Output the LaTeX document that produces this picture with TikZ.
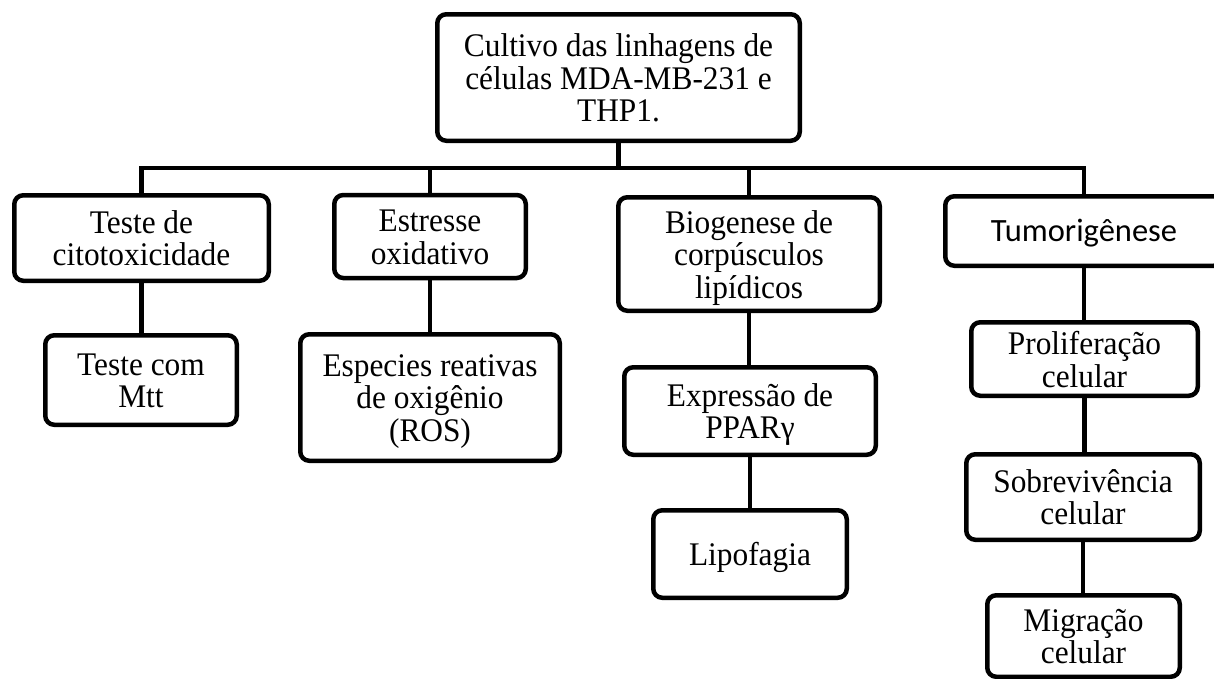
\documentclass[tikz,border=0pt]{standalone}
\usepackage{fontspec}
\setmainfont{Liberation Serif}[FakeStretch=0.95]
\newfontfamily\calib{Carlito}
\newcommand{\bx}[1]{\raisebox{-5pt}[\height][\depth]{\begin{tabular}{@{}c@{}}#1\end{tabular}}}
\tikzset{
  box/.style={draw=black, line width=4.5pt, rounded corners=9pt, inner sep=0pt, fill=white,
    font=\fontsize{33}{32}\selectfont},
  conn/.style={draw=black, line width=4.5pt},
}
\begin{document}
\begin{tikzpicture}[x=1pt,y=-1pt]
\clip (0,0) rectangle (1214,678);
\fill[white] (0,0) rectangle (1214,678);
\node[box, minimum width=362.5pt, minimum height=126.5pt] (T) at (618.5,77.5) {\bx{Cultivo das linhagens de\\células MDA-MB-231 e\\THP1.}};
\node[box, minimum width=254.5pt, minimum height=85.5pt] (A) at (141.5,238) {\bx{Teste de\\citotoxicidade}};
\node[box, minimum width=191.5pt, minimum height=83pt] (B) at (430,236.5) {\bx{Estresse\\oxidativo}};
\node[box, minimum width=261.5pt, minimum height=113.5pt] (C) at (749,254) {\bx{Biogenese de\\corpúsculos\\lipídicos}};
\node[box, minimum width=277.5pt, minimum height=69.5pt, font=\fontsize{32.5}{32}\calib] (D) at (1084,231) {\raisebox{-2pt}[\height][\depth]{Tumorigênese}};
\node[box, minimum width=191.5pt, minimum height=89.5pt] (A2) at (141,380) {\bx{Teste com\\Mtt}};
\node[box, minimum width=259.5pt, minimum height=126.5pt] (B2) at (430,397.5) {\bx{Especies reativas\\de oxigênio\\(ROS)}};
\node[box, minimum width=251.5pt, minimum height=87.5pt] (C2) at (750,411) {\bx{Expressão de\\PPARγ}};
\node[box, minimum width=193.5pt, minimum height=87.5pt] (C3) at (750,554) {\bx{Lipofagia}};
\node[box, minimum width=226.5pt, minimum height=73.5pt] (D2) at (1084.5,359) {\bx{Proliferação\\celular}};
\node[box, minimum width=233.5pt, minimum height=85.5pt] (D3) at (1083,497) {\bx{Sobrevivência\\celular}};
\node[box, minimum width=192.5pt, minimum height=81.5pt] (D4) at (1083.5,636) {\bx{Migração\\celular}};
\coordinate (bus) at (0,168);
\draw[conn] (T.south) -- (T.south |- bus);
\draw[conn] (A.north) -- (A.north |- bus) -- (D.north |- bus) -- (D.north);
\draw[conn] (B.north |- bus) -- (B.north);
\draw[conn] (C.north |- bus) -- (C.north);
\draw[conn] (A.south) -- (A.south |- A2.north);
\draw[conn] (B.south) -- (B.south |- B2.north);
\draw[conn] (C.south) -- (C.south |- C2.north);
\draw[conn] (C2.south) -- (C2.south |- C3.north);
\draw[conn] (D.south) -- (D.south |- D2.north);
\draw[conn] (D2.south) -- (D2.south |- D3.north);
\draw[conn] (D3.south) -- (D3.south |- D4.north);
\end{tikzpicture}
\end{document}
